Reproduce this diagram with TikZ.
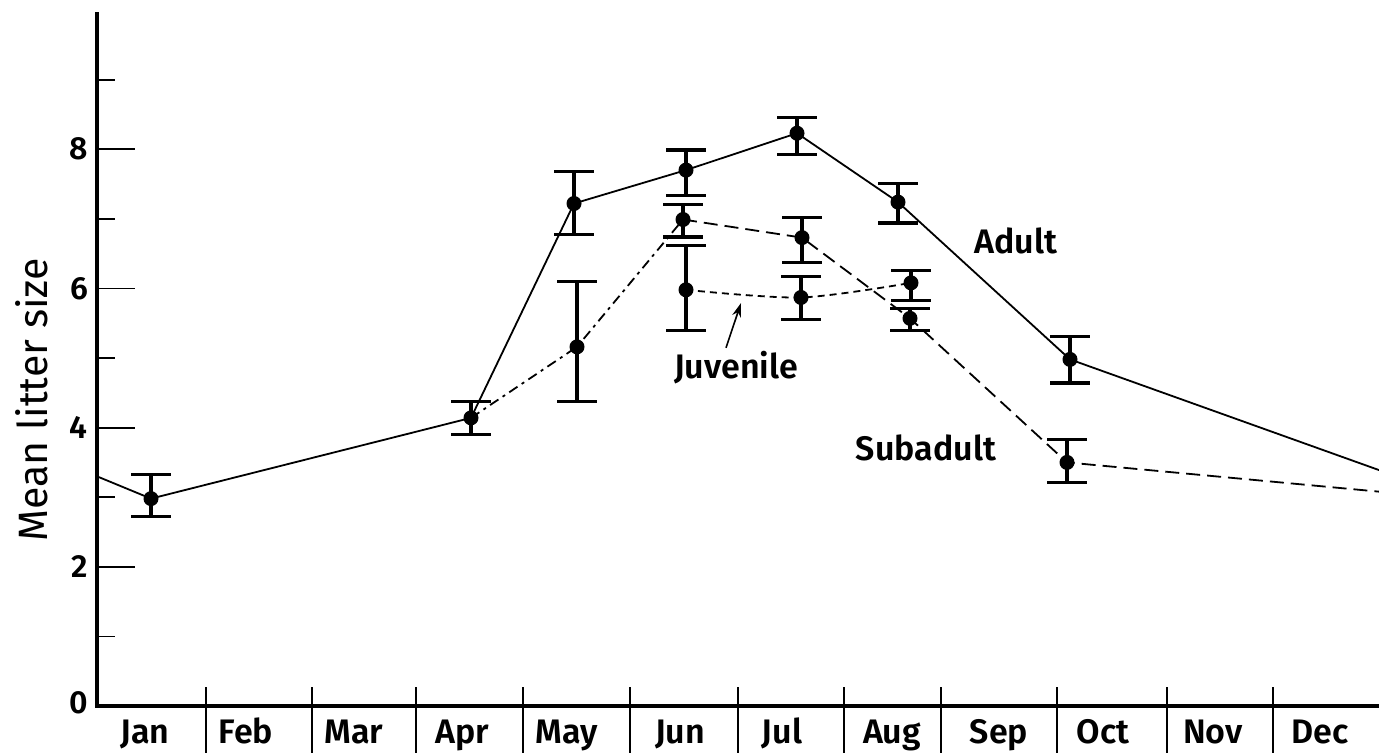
\documentclass[tikz,border=0pt]{standalone}
\usepackage{fontspec}
\setmainfont{Fira Sans}[UprightFont=* SemiBold, BoldFont=* Bold]
\newfontfamily\axisfont{Fira Sans}
\usetikzlibrary{arrows.meta}
\newcommand{\lbl}{\fontsize{34}{40}\selectfont}
\newcommand{\numlbl}{\fontsize{32}{38}\selectfont}
\newcommand{\ylbl}{\axisfont\fontsize{41}{46}\selectfont}
% error bar: x, mean, low, high
\newcommand{\ebar}[4]{%
  \draw[bar] (#1,#3) -- (#1,#4);
  \draw[bar] (#1-20,#3) -- (#1+20,#3);
  \draw[bar] (#1-20,#4) -- (#1+20,#4);
  \fill (#1,#2) circle[radius=7.5pt];}

\begin{document}
\begin{tikzpicture}[x=1pt,y=69.6pt,
  bar/.style={line width=3.2pt},
  adultline/.style={line width=1.8pt},
  subline/.style={line width=1.8pt,dash pattern=on 14pt off 7pt},
  mixline/.style={line width=1.8pt,dash pattern=on 10pt off 5pt on 3pt off 5pt},
  juvline/.style={line width=1.8pt,dash pattern=on 7pt off 5pt}]
\useasboundingbox (0,-0.675) rectangle (1379,10.144);
% axes
\draw[line width=4.2pt,line join=miter] (97,9.97) -- (97,0) -- (1379,0);
\foreach \v in {2,4,6,8} \draw[line width=1.8pt] (97,\v) -- (135,\v);
\foreach \v in {1,3,5,7,9} \draw[line width=1.8pt] (97,\v) -- (115,\v);
\foreach \v in {2,4,6,8} \node[anchor=east,inner sep=0pt] (tick\v) at (88,\v) {\numlbl \v};
\node[anchor=east,inner sep=0pt] (tick0) at (88,0.05) {\numlbl 0};
\node[rotate=90] (ylab) at (32,4.4) {\ylbl Mean litter size};
% month separators and labels
\foreach \sx in {206,312,416,523,630,738,844,941,1057,1167,1273}
  \draw[line width=1.8pt] (\sx,0.27) -- (\sx,-0.675);
\foreach \mx/\mn in {145/Jan,246/Feb,354/Mar,462/Apr,567/May,680/Jun,782/Jul,892/Aug,999/Sep,1103/Oct,1213/Nov,1320/Dec}
  \node[anchor=base,inner sep=0pt] (m\mn) at (\mx,-0.545) {\lbl \mn};
% data points
\coordinate (adS) at (97,3.3);
\coordinate (adJan) at (151,2.98);
\coordinate (adApr) at (471,4.14);
\coordinate (adMay) at (574,7.22);
\coordinate (adJun) at (686,7.70);
\coordinate (adJul) at (797,8.23);
\coordinate (adAug) at (898,7.24);
\coordinate (adOct) at (1070,4.98);
\coordinate (adE) at (1379,3.39);
\coordinate (sbMay) at (577,5.16);
\coordinate (sbJun) at (683,6.99);
\coordinate (sbJul) at (802,6.73);
\coordinate (sbAug) at (910,5.57);
\coordinate (sbOct) at (1067,3.50);
\coordinate (sbE) at (1379,3.08);
\coordinate (jvJun) at (686,5.98);
\coordinate (jvJul) at (801,5.87);
\coordinate (jvAug) at (911,6.08);
% lines
\draw[adultline] (adS) -- (adJan) -- (adApr) -- (adMay) -- (adJun) -- (adJul) -- (adAug) -- (adOct) -- (adE);
\draw[mixline] (adApr) -- (sbMay) -- (sbJun);
\draw[subline] (sbJun) -- (sbJul) -- (sbAug) -- (sbOct) -- (sbE);
\draw[juvline] plot[smooth] coordinates {(jvJun) (jvJul) (jvAug)};
% error bars
\ebar{151}{2.98}{2.72}{3.33}
\ebar{471}{4.14}{3.90}{4.37}
\ebar{574}{7.22}{6.77}{7.68}
\ebar{686}{7.70}{7.34}{7.99}
\ebar{797}{8.23}{7.92}{8.46}
\ebar{898}{7.24}{6.94}{7.51}
\ebar{1070}{4.98}{4.64}{5.31}
\ebar{577}{5.16}{4.37}{6.10}
\ebar{683}{6.99}{6.74}{7.20}
\ebar{802}{6.73}{6.37}{7.02}
\ebar{910}{5.57}{5.39}{5.71}
\ebar{1067}{3.50}{3.21}{3.83}
\ebar{686}{5.98}{5.39}{6.62}
\ebar{801}{5.87}{5.55}{6.17}
\ebar{911}{6.08}{5.83}{6.26}
% group labels
\node (adult) at (1016,6.68) {\lbl Adult};
\node (subadult) at (926,3.71) {\lbl Subadult};
\node (juvenile) at (736,4.86) {\lbl Juvenile};
\coordinate (jvTip) at (741,5.79);
\draw[line width=1.6pt,-{Stealth[length=14pt,width=9pt]}] (juvenile.north) ++(-10,0) -- (jvTip);
\end{tikzpicture}
\end{document}
